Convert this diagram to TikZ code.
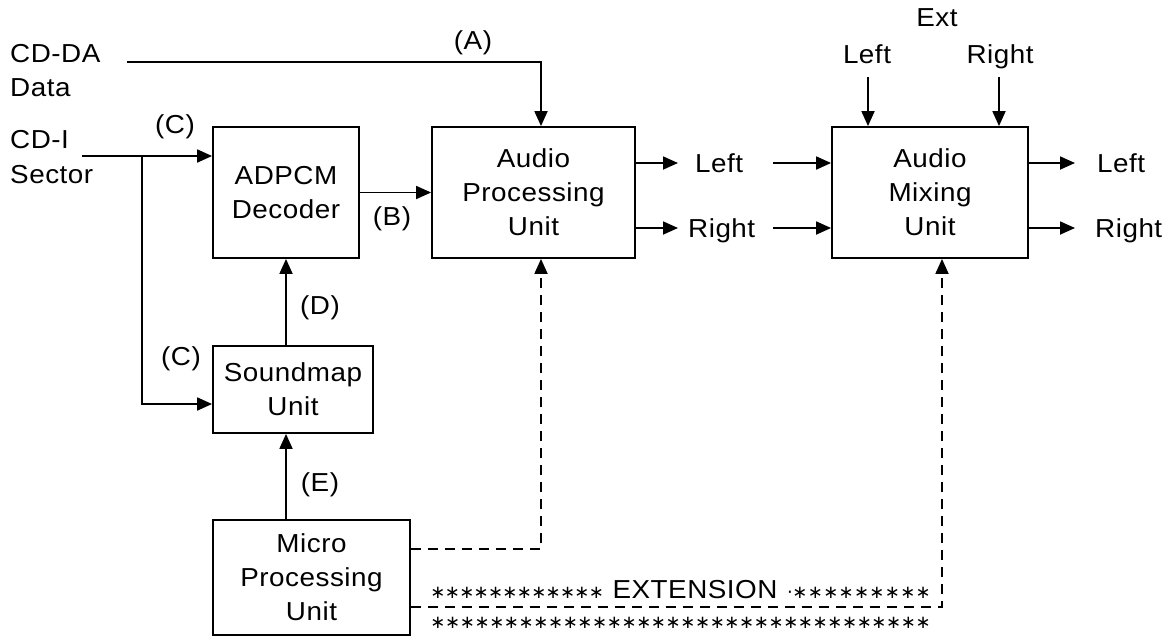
\documentclass[tikz,border=0pt]{standalone}
\usepackage{fontspec}
\setmainfont{Liberation Sans}[FakeStretch=1.07,LetterSpace=2]
\newfontfamily\starfont{DejaVu Sans}
\usetikzlibrary{arrows.meta}

\begin{document}
\begin{tikzpicture}[x=1pt,y=-1pt,
  every node/.style={font=\fontsize{26}{34}\selectfont},
  box/.style={draw, line width=1.8pt, inner sep=0pt, align=center},
  lbl/.style={inner sep=0pt, anchor=base},
  par/.style={inner sep=0pt, anchor=center},
  wire/.style={line width=1.8pt},
  link/.style={wire, -{Triangle[length=15pt,width=13pt]}},
  dlink/.style={link, dash pattern=on 10pt off 7pt},
  ast/.style={inner sep=0pt, anchor=base, font=\starfont\fontsize{18}{18}\selectfont}]
\useasboundingbox (0,0) rectangle (1175,637);

% processing blocks
\node[box, minimum width=146pt, minimum height=131pt] (adpcm) at (286,192.5) {ADPCM\\Decoder};
\node[box, minimum width=203pt, minimum height=131pt] (apu) at (533.5,192.5) {Audio\\Processing\\Unit};
\node[box, minimum width=196pt, minimum height=131pt] (amu) at (930,192.5) {Audio\\Mixing\\Unit};
\node[box, minimum width=160pt, minimum height=87pt] (sm) at (293,389.5) {Soundmap\\Unit};
\node[box, minimum width=197pt, minimum height=115pt] (mpu) at (311.5,577.5) {Micro\\Processing\\Unit};

% source labels
\node[lbl, anchor=base west] (cdda) at (10,62) {CD-DA};
\node[lbl, anchor=base west] (data) at (10,96) {Data};
\node[lbl, anchor=base west] (cdi) at (10,148) {CD-I};
\node[lbl, anchor=base west] (sector) at (10,183) {Sector};

% path letters
\node[par] (la) at (473,43) {(A)};
\node[par] (lc1) at (175,127) {(C)};
\node[par] (lb) at (392,219) {(B)};
\node[par] (ld) at (320,308) {(D)};
\node[par] (lc2) at (181,359) {(C)};
\node[par] (le) at (320,485) {(E)};

% channel labels
\node[lbl, anchor=base west] (apuL) at (695,172) {Left};
\node[lbl, anchor=base west] (apuR) at (688,237) {Right};
\node[lbl, anchor=base west] (amuL) at (1097,172) {Left};
\node[lbl, anchor=base west] (amuR) at (1095,237) {Right};
\node[lbl] (ext) at (937,27) {Ext};
\node[lbl] (extL) at (867,63) {Left};
\node[lbl] (extR) at (1000,63) {Right};

% connector end points
\coordinate (a0) at (127,62);
\coordinate (c0) at (82,156);
\coordinate (c1) at (142,156);
\coordinate (yl) at (0,163);
\coordinate (yr) at (0,228);
\coordinate (oL1) at (678,163);
\coordinate (oR1) at (678,228);
\coordinate (iL) at (773,163);
\coordinate (iR) at (773,228);
\coordinate (oL2) at (1075,163);
\coordinate (oR2) at (1075,228);
\coordinate (eL) at (868,77);
\coordinate (eR) at (999,77);
\coordinate (d1) at (541,549);
\coordinate (d2) at (942,607);

% data paths
\draw[link] (a0) -| ([xshift=7.5pt]apu.north);
\draw[link] (c0) -- (c0 -| adpcm.west);
\draw[link] (c1) |- ([yshift=-14.5pt]sm.west);
\draw[link] (adpcm.east) -- (adpcm.east -| apu.west);
\draw[link] (sm.north -| adpcm.south) -- (adpcm.south);
\draw[link] (mpu.north -| adpcm.south) -- (sm.south -| adpcm.south);

\draw[link] (apu.east |- yl) -- (oL1);
\draw[link] (apu.east |- yr) -- (oR1);
\draw[link] (iL) -- (iL -| amu.west);
\draw[link] (iR) -- (iR -| amu.west);
\draw[link] (amu.east |- yl) -- (oL2);
\draw[link] (amu.east |- yr) -- (oR2);
\draw[link] (eL) -- (eL |- amu.north);
\draw[link] (eR) -- (eR |- amu.north);

% control paths
\draw[dlink] (mpu.east |- d1) -| (d1 |- apu.south);
\draw[dlink] (mpu.east |- d2) -| (d2 |- amu.south);

% extension marking
\foreach \i in {0,...,11} \node[ast] (sa\i) at (438+14.4*\i,598) {∗};
\node[lbl] (ext2) at (695,598) {EXTENSION};
\node[ast] (dot) at (790,598) {·};
\foreach \i in {0,...,8} \node[ast] (sb\i) at (800+15.4*\i,598) {∗};
\foreach \i in {0,...,33} \node[ast] (sc\i) at (438+14.7*\i,628) {∗};
\end{tikzpicture}
\end{document}
